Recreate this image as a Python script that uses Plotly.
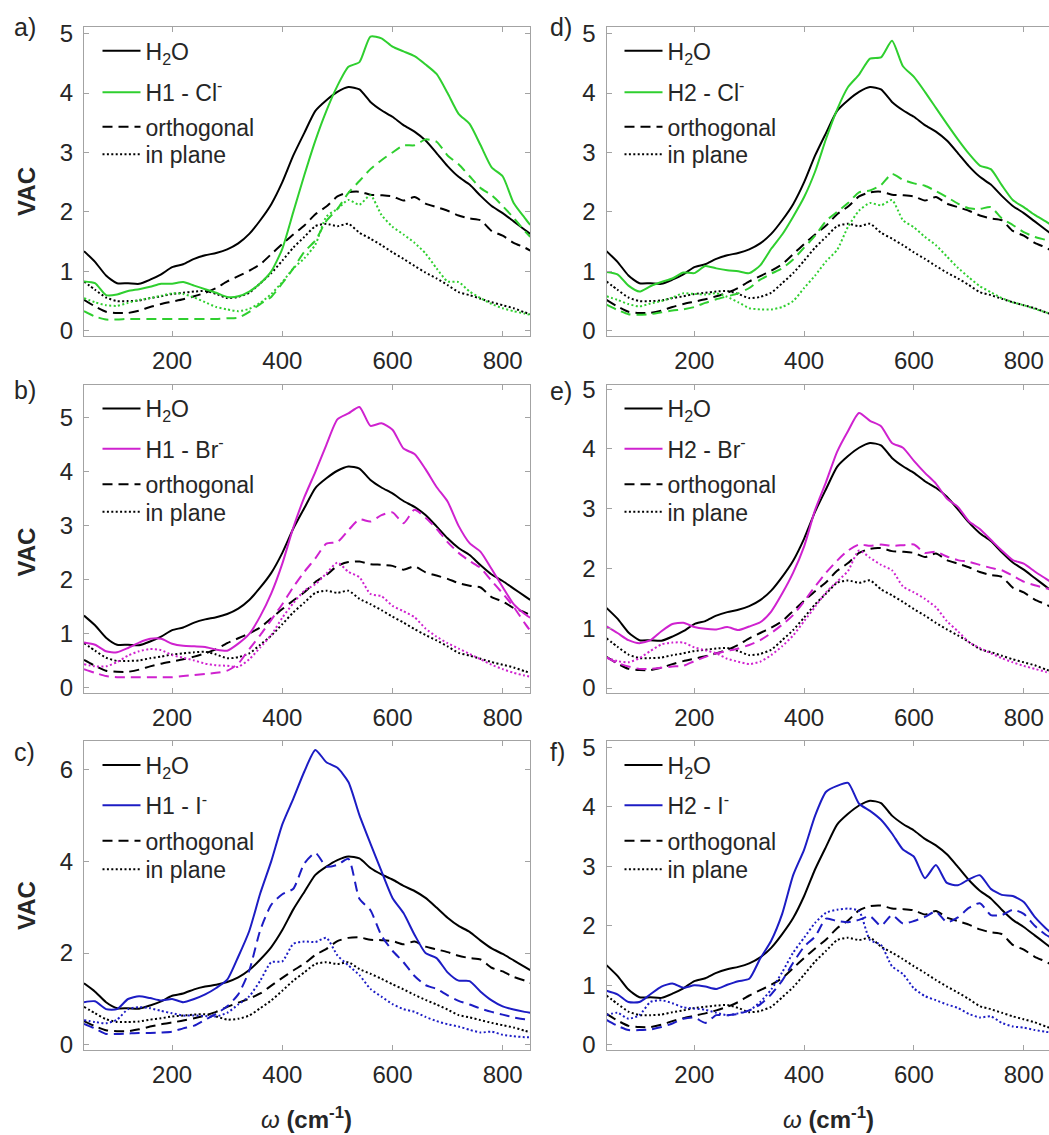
import plotly.graph_objects as go

# ---------------------------------------------------------------------------
# Vibrational autocorrelation (VAC) spectra, frequency grid in cm^-1
# ---------------------------------------------------------------------------
wavenumber = [40, 60, 80, 100, 120, 140, 160, 180, 200, 220,
              240, 260, 280, 300, 320, 340, 360, 380, 400, 420,
              440, 460, 480, 500, 520, 540, 560, 580, 600, 620,
              640, 660, 680, 700, 720, 740, 760, 780, 800, 820,
              840, 850]

# bulk water reference (same in every panel)
h2o_total = [1.34, 1.16, 0.93, 0.80, 0.80, 0.79, 0.86, 0.95, 1.07, 1.12,
             1.21, 1.27, 1.31, 1.37, 1.47, 1.63, 1.86, 2.13, 2.50, 2.95,
             3.33, 3.70, 3.88, 4.02, 4.10, 4.06, 3.85, 3.71, 3.60, 3.46,
             3.35, 3.20, 2.99, 2.77, 2.59, 2.46, 2.27, 2.10, 1.98, 1.84,
             1.70, 1.63]
h2o_orth = [0.52, 0.41, 0.32, 0.30, 0.30, 0.34, 0.40, 0.45, 0.49, 0.53,
            0.58, 0.64, 0.72, 0.83, 0.92, 1.01, 1.12, 1.29, 1.46, 1.62,
            1.77, 1.96, 2.09, 2.26, 2.33, 2.34, 2.29, 2.28, 2.26, 2.19,
            2.25, 2.14, 2.08, 2.02, 1.94, 1.89, 1.86, 1.68, 1.60, 1.48,
            1.40, 1.35]
h2o_inplane = [0.83, 0.69, 0.56, 0.50, 0.50, 0.51, 0.55, 0.58, 0.62, 0.64,
               0.66, 0.67, 0.62, 0.55, 0.57, 0.64, 0.80, 0.97, 1.18, 1.40,
               1.58, 1.76, 1.80, 1.76, 1.80, 1.65, 1.55, 1.44, 1.32, 1.21,
               1.09, 0.98, 0.88, 0.77, 0.65, 0.60, 0.54, 0.48, 0.43, 0.38,
               0.31, 0.28]

# H1 next to Cl-
h1_cl_total = [0.83, 0.80, 0.60, 0.61, 0.67, 0.70, 0.74, 0.79, 0.79, 0.82,
               0.76, 0.70, 0.64, 0.57, 0.58, 0.66, 0.80, 1.00, 1.38, 2.00,
               2.62, 3.20, 3.70, 4.12, 4.44, 4.52, 4.95, 4.92, 4.78, 4.70,
               4.62, 4.48, 4.32, 4.00, 3.65, 3.48, 3.12, 2.75, 2.60, 2.15,
               1.90, 1.78]
h1_cl_orth = [0.33, 0.24, 0.19, 0.19, 0.20, 0.20, 0.20, 0.20, 0.20, 0.20,
              0.20, 0.20, 0.20, 0.21, 0.22, 0.32, 0.45, 0.57, 0.80, 1.05,
              1.33, 1.52, 1.85, 2.05, 2.32, 2.52, 2.72, 2.87, 3.00, 3.12,
              3.12, 3.22, 3.18, 2.95, 2.80, 2.60, 2.40, 2.28, 2.10, 1.90,
              1.68, 1.58]
h1_cl_inplane = [0.55, 0.48, 0.43, 0.42, 0.47, 0.52, 0.55, 0.59, 0.63, 0.62,
                 0.56, 0.48, 0.40, 0.36, 0.33, 0.37, 0.47, 0.62, 0.82, 1.05,
                 1.22, 1.45, 1.92, 2.05, 2.20, 2.12, 2.28, 1.95, 1.75, 1.62,
                 1.48, 1.30, 1.05, 0.83, 0.82, 0.66, 0.55, 0.45, 0.38, 0.33,
                 0.29, 0.27]

# H1 next to Br-
h1_br_total = [0.84, 0.80, 0.68, 0.66, 0.74, 0.84, 0.91, 0.91, 0.82, 0.78,
               0.77, 0.76, 0.71, 0.69, 0.82, 1.00, 1.33, 1.75, 2.30, 2.97,
               3.53, 4.00, 4.50, 4.97, 5.08, 5.20, 4.85, 4.90, 4.78, 4.43,
               4.33, 4.05, 3.72, 3.45, 3.00, 2.68, 2.52, 2.20, 1.87, 1.55,
               1.37, 1.30]
h1_br_orth = [0.35, 0.28, 0.22, 0.20, 0.20, 0.20, 0.20, 0.20, 0.20, 0.22,
              0.24, 0.26, 0.28, 0.32, 0.45, 0.72, 0.98, 1.26, 1.55, 1.87,
              2.15, 2.40, 2.67, 2.70, 2.92, 3.12, 3.08, 3.20, 3.25, 3.05,
              3.30, 3.15, 2.95, 2.70, 2.50, 2.35, 2.22, 1.98, 1.75, 1.50,
              1.20, 1.06]
h1_br_inplane = [0.44, 0.40, 0.40, 0.48, 0.60, 0.68, 0.72, 0.70, 0.61, 0.56,
                 0.51, 0.45, 0.42, 0.41, 0.39, 0.53, 0.75, 0.98, 1.30, 1.57,
                 1.80, 1.92, 2.12, 2.32, 2.15, 2.05, 1.74, 1.70, 1.52, 1.42,
                 1.31, 1.10, 0.95, 0.83, 0.73, 0.63, 0.53, 0.43, 0.35, 0.28,
                 0.23, 0.21]

# H1 next to I-
h1_i_total = [0.93, 0.95, 0.78, 0.78, 1.00, 1.06, 1.02, 0.97, 1.00, 0.93,
              1.00, 1.10, 1.24, 1.42, 1.92, 2.48, 3.30, 4.00, 4.80, 5.36,
              5.95, 6.42, 6.15, 6.03, 5.72, 5.00, 4.38, 3.78, 3.20, 2.87,
              2.40, 2.00, 1.89, 1.58, 1.40, 1.39, 1.16, 0.97, 0.84, 0.77,
              0.72, 0.70]
h1_i_orth = [0.46, 0.36, 0.24, 0.24, 0.25, 0.26, 0.26, 0.27, 0.29, 0.36,
             0.42, 0.55, 0.68, 0.84, 1.10, 1.62, 2.50, 3.05, 3.28, 3.40,
             3.95, 4.18, 3.88, 3.92, 4.05, 3.18, 2.93, 2.38, 2.05, 1.80,
             1.50, 1.30, 1.22, 1.08, 0.96, 0.88, 0.79, 0.72, 0.66, 0.60,
             0.56, 0.55]
h1_i_inplane = [0.54, 0.50, 0.47, 0.55, 0.78, 0.82, 0.80, 0.74, 0.69, 0.64,
                0.64, 0.63, 0.62, 0.70, 0.88, 1.06, 1.40, 1.80, 1.82, 2.20,
                2.25, 2.24, 2.33, 1.95, 1.73, 1.52, 1.22, 1.05, 0.89, 0.78,
                0.72, 0.61, 0.52, 0.45, 0.40, 0.33, 0.27, 0.29, 0.22, 0.19,
                0.17, 0.17]

# H2 next to Cl-
h2_cl_total = [0.99, 0.95, 0.76, 0.66, 0.75, 0.82, 0.88, 0.98, 0.97, 1.09,
               1.05, 1.02, 1.00, 0.97, 1.10, 1.38, 1.62, 1.92, 2.25, 2.68,
               3.23, 3.72, 4.10, 4.31, 4.58, 4.60, 4.88, 4.45, 4.27, 4.02,
               3.75, 3.48, 3.22, 2.98, 2.78, 2.72, 2.45, 2.20, 2.08, 1.95,
               1.84, 1.78]
h2_cl_orth = [0.44, 0.35, 0.28, 0.27, 0.28, 0.31, 0.34, 0.36, 0.40, 0.47,
              0.53, 0.58, 0.63, 0.72, 0.86, 0.96, 1.05, 1.20, 1.40, 1.60,
              1.85, 2.00, 2.15, 2.33, 2.36, 2.45, 2.64, 2.54, 2.48, 2.44,
              2.35, 2.25, 2.14, 2.06, 2.05, 2.08, 1.89, 1.78, 1.66, 1.58,
              1.53, 1.50]
h2_cl_inplane = [0.58, 0.52, 0.45, 0.41, 0.46, 0.50, 0.56, 0.63, 0.62, 0.61,
                 0.63, 0.57, 0.48, 0.38, 0.36, 0.36, 0.40, 0.50, 0.72, 0.93,
                 1.17, 1.36, 1.75, 2.02, 2.15, 2.11, 2.20, 1.86, 1.74, 1.58,
                 1.44, 1.25, 1.06, 0.90, 0.75, 0.65, 0.55, 0.48, 0.43, 0.37,
                 0.31, 0.29]

# H2 next to Br-
h2_br_total = [1.03, 0.92, 0.80, 0.75, 0.80, 0.95, 1.07, 1.09, 1.02, 0.99,
               0.98, 1.02, 0.97, 1.03, 1.10, 1.28, 1.58, 1.93, 2.37, 2.98,
               3.45, 3.95, 4.30, 4.60, 4.47, 4.38, 4.10, 4.02, 3.80, 3.60,
               3.42, 3.17, 3.03, 2.79, 2.66, 2.48, 2.30, 2.14, 2.08, 1.95,
               1.83, 1.77]
h2_br_orth = [0.51, 0.42, 0.36, 0.32, 0.32, 0.34, 0.36, 0.37, 0.45, 0.52,
              0.58, 0.62, 0.66, 0.72, 0.80, 0.92, 1.06, 1.22, 1.45, 1.70,
              1.93, 2.13, 2.30, 2.40, 2.38, 2.40, 2.38, 2.39, 2.40, 2.26,
              2.28, 2.20, 2.14, 2.11, 2.06, 2.01, 1.97, 1.88, 1.78, 1.72,
              1.67, 1.65]
h2_br_inplane = [0.51, 0.45, 0.43, 0.50, 0.62, 0.73, 0.76, 0.76, 0.68, 0.63,
                 0.58, 0.49, 0.44, 0.40, 0.44, 0.55, 0.70, 0.88, 1.12, 1.36,
                 1.60, 1.78, 1.96, 2.30, 2.18, 2.06, 1.97, 1.70, 1.60, 1.49,
                 1.35, 1.12, 0.95, 0.77, 0.67, 0.58, 0.50, 0.43, 0.37, 0.32,
                 0.27, 0.24]

# H2 next to I-
h2_i_total = [0.91, 0.85, 0.72, 0.72, 0.85, 0.98, 1.03, 0.96, 1.00, 0.98,
              0.94, 1.01, 1.07, 1.11, 1.45, 1.75, 2.20, 2.85, 3.28, 3.85,
              4.25, 4.35, 4.40, 4.05, 3.93, 3.78, 3.55, 3.28, 3.16, 2.80,
              3.02, 2.72, 2.68, 2.78, 2.85, 2.62, 2.52, 2.50, 2.40, 2.15,
              1.96, 1.88]
h2_i_orth = [0.42, 0.32, 0.25, 0.25, 0.26, 0.30, 0.36, 0.44, 0.46, 0.37,
             0.50, 0.50, 0.52, 0.58, 0.68, 0.85, 1.08, 1.38, 1.65, 1.82,
             2.12, 2.08, 2.06, 2.10, 2.16, 2.00, 2.18, 2.04, 2.08, 2.15,
             2.24, 2.06, 2.14, 2.30, 2.38, 2.18, 2.18, 2.27, 2.20, 2.00,
             1.85, 1.80]
h2_i_inplane = [0.50, 0.54, 0.44, 0.50, 0.72, 0.75, 0.70, 0.63, 0.61, 0.59,
                0.54, 0.50, 0.53, 0.58, 0.72, 0.93, 1.22, 1.55, 1.80, 2.05,
                2.22, 2.27, 2.29, 2.25, 1.76, 1.68, 1.32, 1.19, 0.95, 0.82,
                0.75, 0.68, 0.62, 0.52, 0.46, 0.48, 0.37, 0.31, 0.29, 0.25,
                0.22, 0.21]

x_ticks = [200, 400, 600, 800]

# ---------------------------------------------------------------------------
# Styling and page geometry
# ---------------------------------------------------------------------------
W, H = 1049, 1135
FONT = "Liberation Sans, Arial, Helvetica, sans-serif"
INK = "#262626"
FRAME = "#a3a3a3"
GREEN = "#2fcf2f"
MAGENTA = "#cf22cf"
BLUE = "#1c1cc4"
DASH = "10px,6px"
DOT = "2px,2.4px"


def fx(p):
    return p / W


def fy(p):
    return 1 - p / H


# plot-area edges in pixels
COLS = [(84.0, 530.2), (606.5, 1049.0)]
ROWS = [(18.3, 331.7), (381.7, 694.3), (743.3, 1056.7)]
X_RANGES = [[40, 850], [40, 846]]

panels = [
    # tag, col, row, ion label, colour, total, orthogonal, in plane, y-range, y-ticks
    ("a)", 0, 0, "H1 - Cl<sup>-</sup>", GREEN, h1_cl_total, h1_cl_orth, h1_cl_inplane,
     [-0.083, 5.11], [0, 1, 2, 3, 4, 5]),
    ("b)", 0, 1, "H1 - Br<sup>-</sup>", MAGENTA, h1_br_total, h1_br_orth, h1_br_inplane,
     [-0.091, 5.607], [0, 1, 2, 3, 4, 5]),
    ("c)", 0, 2, "H1 - I<sup>-</sup>", BLUE, h1_i_total, h1_i_orth, h1_i_inplane,
     [-0.107, 6.61], [0, 2, 4, 6]),
    ("d)", 1, 0, "H2 - Cl<sup>-</sup>", GREEN, h2_cl_total, h2_cl_orth, h2_cl_inplane,
     [-0.083, 5.11], [0, 1, 2, 3, 4, 5]),
    ("e)", 1, 1, "H2 - Br<sup>-</sup>", MAGENTA, h2_br_total, h2_br_orth, h2_br_inplane,
     [-0.082, 5.07], [0, 1, 2, 3, 4, 5]),
    ("f)", 1, 2, "H2 - I<sup>-</sup>", BLUE, h2_i_total, h2_i_orth, h2_i_inplane,
     [-0.083, 5.10], [0, 1, 2, 3, 4, 5]),
]

# legend: left edge per column, entry anchor heights per row (pixels)
LEG_X = [97.5, 619.5]
LEG_ROWS = [[42.5, 84.5, 119.5, 147.5],
            [405.5, 446.5, 482.5, 510.5],
            [767.5, 808.5, 844.5, 873.5]]
TAG_POS = {"a)": (24.7, 18), "b)": (25, 387), "c)": (24.7, 754),
           "d)": (561, 18), "e)": (561, 388), "f)": (557, 754)}
VAC_Y = [185, 551, 910]

fig = go.Figure()
layout = dict(
    width=W, height=H,
    margin=dict(l=0, r=0, t=0, b=0),
    paper_bgcolor="white", plot_bgcolor="white",
    showlegend=True,
    font=dict(family=FONT, color=INK),
    annotations=[],
)

legend_count = 0


def new_legend(col, y_centre):
    """One legend box per entry so each entry sits at its own height."""
    global legend_count
    legend_count += 1
    key = "legend" if legend_count == 1 else f"legend{legend_count}"
    layout[key] = dict(
        x=fx(LEG_X[col]), y=fy(y_centre), xanchor="left", yanchor="middle",
        bgcolor="rgba(0,0,0,0)", borderwidth=0,
        font=dict(family=FONT, size=23, color=INK), itemwidth=38,
    )
    return key


for i, (tag, col, row, ion, colour, tot, orth, inpl, yr, yt) in enumerate(panels):
    n = i + 1
    sfx = "" if n == 1 else str(n)
    xa, ya = "x" + sfx, "y" + sfx

    def line(y, name, color, dash, legend_y=None):
        show = legend_y is not None
        kw = dict(legend=new_legend(col, legend_y)) if show else {}
        fig.add_trace(go.Scatter(
            x=wavenumber, y=y, name=name, mode="lines",
            line=dict(color=color, width=2, dash=dash, shape="spline", smoothing=0.6),
            xaxis=xa, yaxis=ya, showlegend=show, hoverinfo="skip", **kw,
        ))

    ly = LEG_ROWS[row]
    line(h2o_total, "H<sub>2</sub>O", "black", "solid", ly[0])
    line(h2o_orth, "orthogonal", "black", DASH, ly[2])
    line(h2o_inplane, "in plane", "black", DOT, ly[3])
    line(orth, "orthogonal", colour, DASH)
    line(inpl, "in plane", colour, DOT)
    line(tot, ion, colour, "solid", ly[1])

    x0, x1 = COLS[col]
    y0, y1 = ROWS[row]
    axis_common = dict(
        showgrid=False, zeroline=False, showline=True, linecolor=FRAME, linewidth=1,
        ticks="inside", ticklen=5, tickwidth=1, tickcolor=FRAME,
        tickfont=dict(family=FONT, size=24, color=INK),
        fixedrange=True,
    )
    layout["xaxis" + sfx] = dict(
        axis_common, domain=[fx(x0), fx(x1)], anchor=ya, range=X_RANGES[col],
        tickvals=x_ticks, mirror="ticks", ticklabelstandoff=3,
    )
    layout["yaxis" + sfx] = dict(
        axis_common, domain=[fy(y1), fy(y0)], anchor=xa, range=yr,
        tickvals=yt, mirror="ticks" if col == 0 else False, ticklabelstandoff=5,
    )

    tx, ty = TAG_POS[tag]
    layout["annotations"].append(dict(
        text=tag, x=fx(tx), y=fy(ty), xref="paper", yref="paper",
        xanchor="center", yanchor="middle", showarrow=False,
        font=dict(family=FONT, size=25, color=INK),
    ))
    if col == 0:
        layout["annotations"].append(dict(
            text="<b>VAC</b>", x=fx(26.7), y=fy(VAC_Y[row]), xref="paper", yref="paper",
            xanchor="center", yanchor="middle", textangle=-90, showarrow=False,
            font=dict(family=FONT, size=24, color=INK),
        ))
    if row == 2:
        layout["annotations"].append(dict(
            text="<i>ω</i> <b>(cm<sup>-1</sup>)</b>", x=fx(x0 + 222.1),
            y=fy(1126), xref="paper", yref="paper",
            xanchor="center", yanchor="middle", showarrow=False,
            font=dict(family=FONT, size=24, color=INK),
        ))

fig.update_layout(**layout)
fig.write_html("out.html")
